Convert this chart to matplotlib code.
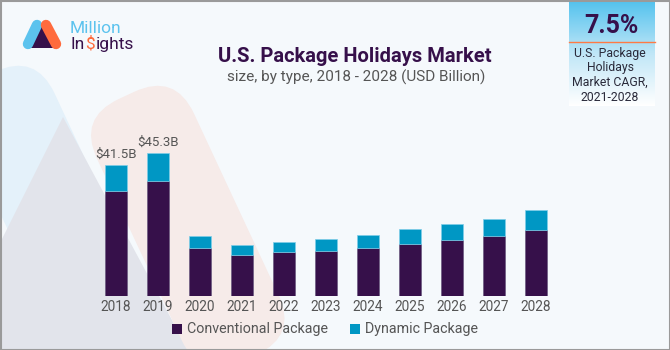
import numpy as np
import matplotlib.pyplot as plt
from matplotlib.patches import Rectangle, FancyBboxPatch, Polygon
from matplotlib.colors import LinearSegmentedColormap
import matplotlib.transforms as mtransforms

plt.rcParams['font.family'] = ['Roboto', 'DejaVu Sans']

years = ['2018', '2019', '2020', '2021', '2022', '2023', '2024', '2025', '2026', '2027', '2028']
conventional = [33.2, 36.2, 15.1, 12.8, 13.7, 14.2, 15.1, 16.4, 17.7, 19.0, 20.8]
dynamic = [8.3, 9.1, 3.8, 3.2, 3.3, 3.7, 4.1, 4.6, 4.9, 5.2, 6.2]
bar_labels = {0: '$41.5B', 1: '$45.3B'}

dark = '#36104a'
blue = '#0097c4'
grey_txt = '#555555'

fig = plt.figure(figsize=(6.7, 3.5), dpi=100)
fig.patch.set_facecolor('#f5f9fc')

# background layer in pixel-like coordinates
bg = fig.add_axes([0, 0, 1, 1], zorder=0)
bg.set_xlim(0, 670)
bg.set_ylim(350, 0)
bg.axis('off')


def band(x0, y0, w, h, color, r):
    p = FancyBboxPatch((0, 0), w, h, boxstyle='round,pad=0,rounding_size=%g' % r,
                       color=color, lw=0)
    p.set_transform(mtransforms.Affine2D().rotate_deg(-25).translate(x0, y0) + bg.transData)
    bg.add_patch(p)


band(-55, 95, 100, 320, '#e4f1fa', 45)
bg.add_patch(Polygon([[63, 117], [188, 350], [0, 350], [0, 243]], color='#e2e4eb', lw=0))
band(78, 118, 107, 290, '#f6ebe9', 45)
bg.add_patch(Rectangle((0.5, 0.5), 669, 349, fill=False, ec='#9a9a9a', lw=1.5, zorder=5))

# logo
bg.plot([28, 37], [44, 25], color='#5cc3ee', lw=7.5, solid_capstyle='round')
bg.plot([46, 56], [25, 44], color='#ff6b3d', lw=7.5, solid_capstyle='round')
bg.add_patch(Polygon([[30, 48], [41, 23], [54, 48]], color=dark, lw=0))
bg.text(70, 33, 'Million', color='#5cc3ee', fontsize=12.5, va='baseline', ha='left')
t1 = bg.text(70, 49, 'In', color=dark, fontsize=12.5, va='baseline', ha='left')
t2 = bg.annotate('$', xy=(1, 0), xycoords=t1, xytext=(0.6, 0), textcoords='offset points',
                 color='#ff6b3d', fontsize=12.5, va='bottom', ha='left')
bg.annotate('ights', xy=(1, 0), xycoords=t2, xytext=(0.6, 0), textcoords='offset points',
            color=dark, fontsize=12.5, va='bottom', ha='left')

# CAGR box
grad = np.linspace(0, 1, 100).reshape(-1, 1)
cmap = LinearSegmentedColormap.from_list('g', ['#52c2ee', '#bfe6f7', '#ffffff'])
bg.imshow(grad, extent=(569, 655, 106, 0), cmap=cmap, aspect='auto', zorder=1)
bg.set_xlim(0, 670)
bg.set_ylim(350, 0)
bg.plot([569, 655], [42, 42], color='#ff7a45', lw=1, zorder=2)
bg.text(611, 26, '7.5%', color=dark, fontsize=18, fontweight='bold', ha='center', va='center', zorder=3)
for i, line in enumerate(['U.S. Package', 'Holidays', 'Market CAGR,', '2021-2028']):
    bg.text(610, 53 + i * 14.8, line, color='#2a2a3a', fontsize=8.8, ha='center', va='center', zorder=3)

# titles
bg.text(355, 57, 'U.S. Package Holidays Market', color=dark, fontsize=14.5, fontweight='bold',
        ha='center', va='center')
bg.text(356, 77, 'size, by type, 2018 - 2028 (USD Billion)', color=grey_txt, fontsize=11,
        ha='center', va='center')

# chart
ax = fig.add_axes([95 / 670, 1 - 295.5 / 350, 462 / 670, 157.7 / 350], zorder=2)
ax.patch.set_alpha(0)
x = np.arange(len(years))
ax.bar(x, conventional, width=0.52, color=dark, edgecolor='#6a5a80', lw=0.5)
ax.bar(x, dynamic, bottom=conventional, width=0.52, color=blue, edgecolor='#7fcde8', lw=0.5)
for i, lab in bar_labels.items():
    ax.text(i, conventional[i] + dynamic[i] + 1.2, lab, ha='center', va='bottom',
            color=grey_txt, fontsize=9.5)
ax.set_xlim(-0.5, 10.5)
ax.set_ylim(0, 50)
ax.set_xticks(x)
ax.set_xticklabels(years, color=grey_txt, fontsize=9.8)
ax.tick_params(axis='x', length=0, pad=3)
ax.set_yticks([])
for s in ax.spines.values():
    s.set_visible(False)

# legend
bg.add_patch(Rectangle((172, 324), 10, 10, color=dark, lw=0))
bg.text(187, 329.5, 'Conventional Package', color=grey_txt, fontsize=10.3, va='center')
bg.add_patch(Rectangle((350, 324), 10, 10, color=blue, lw=0))
bg.text(365, 329.5, 'Dynamic Package', color=grey_txt, fontsize=10.3, va='center')

fig.savefig('out.png', dpi=100, facecolor=fig.get_facecolor())
